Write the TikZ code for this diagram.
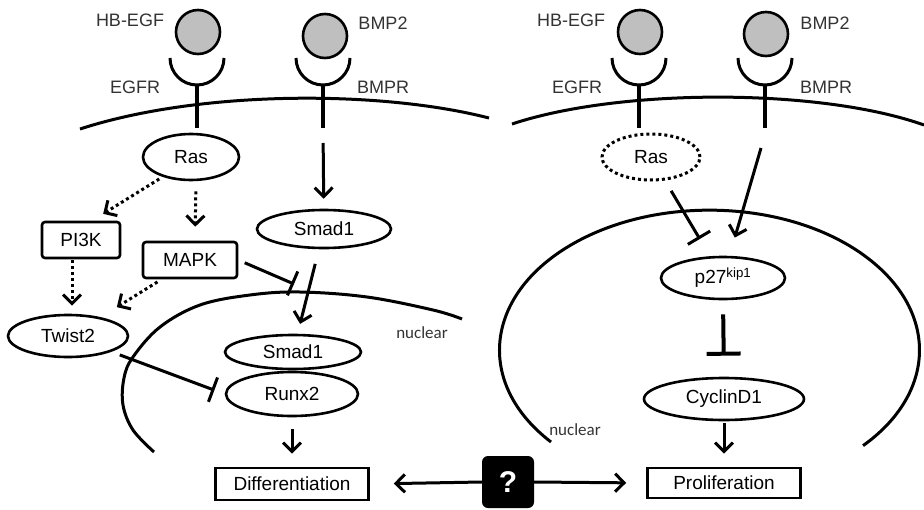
\documentclass[tikz,border=0pt]{standalone}
\usepackage{fontspec}
\setmainfont{Liberation Sans}
\newfontfamily\calibri{Carlito}
\usetikzlibrary{shapes.geometric,arrows.meta}

\begin{document}
\begin{tikzpicture}[x=1pt, y=-1pt,
  every node/.style={font=\fontsize{19}{22}\selectfont},
  mol/.style={ellipse, draw, line width=2.6pt, inner sep=0pt},
  kin/.style={rectangle, rounded corners=3pt, draw, line width=2.6pt, inner sep=0pt, minimum height=36pt},
  fate/.style={rectangle, draw, line width=2.6pt, inner sep=0pt, minimum width=153pt, minimum height=32pt},
  lig/.style={circle, draw, line width=2.6pt, fill=black!25, minimum size=44pt, inner sep=0pt},
  tag/.style={text=black!80, font=\fontsize{18}{21}\selectfont},
  act/.style={line width=3pt, -{Straight Barb[length=9pt, width=18pt]}},
  weak/.style={act, dash pattern=on 3pt off 3pt},
  inh/.style={line width=3pt, -{Bar[width=26pt]}},
]
\def\receptor(#1){\draw[line width=3pt] (#1-27,58) arc[start angle=180, end angle=0, radius=27];
  \draw[line width=3.5pt] (#1,85) -- (#1,128);}
\useasboundingbox (0,0) rectangle (924,509);

% left cell
\draw[line width=3pt] (80,129) .. controls (200,90) and (380,90) .. (489,118);
\draw[line width=3pt] plot[smooth, tension=0.6] coordinates {(154,452) (133,430) (123,405) (124,378) (133,357) (160,327) (200,305) (250,295) (300,292) (367,297) (433,310) (462,319)};

\node[lig] (hbegfL) at (198,32) {};
\node[lig] (bmpL) at (325,36) {};
\receptor(197)
\receptor(323)
\node[tag] (hbegfLt) at (130,20) {HB-EGF};
\node[tag] (egfrLt) at (135,87) {EGFR};
\node[tag] (bmpLt) at (383,23) {BMP2};
\node[tag] (bmprLt) at (383,87) {BMPR};
\coordinate (bmprLend) at (323,128);

\node[mol, minimum width=96pt, minimum height=46pt] (rasL) at (191,157) {Ras};
\node[kin, minimum width=78pt] (pi3k) at (81,240) {PI3K};
\node[kin, minimum width=94pt] (mapk) at (190,260) {MAPK};
\node[mol, minimum width=134pt, minimum height=38pt] (smadC) at (324,229) {Smad1};
\node[mol, minimum width=120pt, minimum height=42pt] (twist) at (68,336) {Twist2};
\node[mol, minimum width=136pt, minimum height=34pt] (smadN) at (293,352) {Smad1};
\node[mol, minimum width=132pt, minimum height=44pt] (runx) at (292,394) {Runx2};
\node[fate] (diff) at (292,484) {Differentiation};
\node[text=black!80, font=\calibri\fontsize{17}{20}\selectfont] (nucL) at (422,333) {nuclear};
\coordinate (blockL) at (294,284);

\draw[weak, shorten <=4pt, shorten >=13pt] (rasL.215) -- (pi3k.60);
\draw[weak, shorten <=10pt, shorten >=14pt] ([xshift=5pt]rasL.south) -- ([xshift=5pt]mapk.north);
\draw[weak, shorten <=1pt, shorten >=8pt] ([xshift=-9pt]pi3k.south) -- ([xshift=4pt]twist.north);
\draw[weak, shorten <=5pt, shorten >=19pt] ([xshift=20pt]mapk.south west) -- (twist.30);
\draw[act, shorten <=15pt, shorten >=10pt] (bmprLend) -- (smadC);
\draw[inh, shorten <=7pt] (mapk.east) -- (blockL);
\draw[act, shorten <=36pt, shorten >=29pt] (smadC.center) -- (smadN.center);
\draw[inh, shorten <=9pt, shorten >=11pt] (twist.south east) -- (runx.west);
\draw[act, shorten <=12pt, shorten >=13pt] (runx.south) -- (diff.north);

% right cell
\draw[line width=3pt] (512,124) .. controls (620,88) and (820,88) .. (924,125);
\draw[line width=3pt] (551,442) arc[start angle=139, end angle=403, x radius=210, y radius=140];

\node[lig] (hbegfR) at (640,32) {};
\node[lig] (bmpR) at (766,34) {};
\receptor(639)
\receptor(765)
\node[tag] (hbegfRt) at (571,20) {HB-EGF};
\node[tag] (egfrRt) at (577,87) {EGFR};
\node[tag] (bmpRt) at (825,23) {BMP2};
\node[tag] (bmprRt) at (826,87) {BMPR};
\coordinate (bmprRend) at (761,148);

\node[mol, dash pattern=on 3pt off 3pt, line width=3pt, minimum width=98pt, minimum height=46pt] (rasR) at (651,157) {Ras};
\node[mol, minimum width=124pt, minimum height=42pt] (p27) at (723,278) {p27\textsuperscript{kip1}};
\node[mol, minimum width=160pt, minimum height=42pt] (cyclin) at (724,399) {CyclinD1};
\node[fate, minimum height=30pt] (prolif) at (724,483) {Proliferation};
\node[text=black!80, font=\calibri\fontsize{17}{20}\selectfont] (nucR) at (575,430) {nuclear};

\draw[inh, shorten <=12pt, shorten >=20pt] (rasR) -- (p27);
\draw[act, shorten >=19pt] (bmprRend) -- (p27);
\draw[inh, line width=4pt, -{Bar[width=34pt]}, shorten <=14pt, shorten >=21pt] (p27.south) -- (cyclin.north);
\draw[act, shorten <=2pt, shorten >=13pt] (cyclin.south) -- (prolif.north);

% between
\node[rectangle, rounded corners=6pt, fill=black, minimum size=52pt, text=white, font=\bfseries\fontsize{30}{34}\selectfont] (ask) at (508,482) {?};
\draw[act, shorten >=24pt] (ask.west) -- (diff.east);
\draw[act, shorten >=20pt] (ask.east) -- (prolif.west);

\end{tikzpicture}
\end{document}
